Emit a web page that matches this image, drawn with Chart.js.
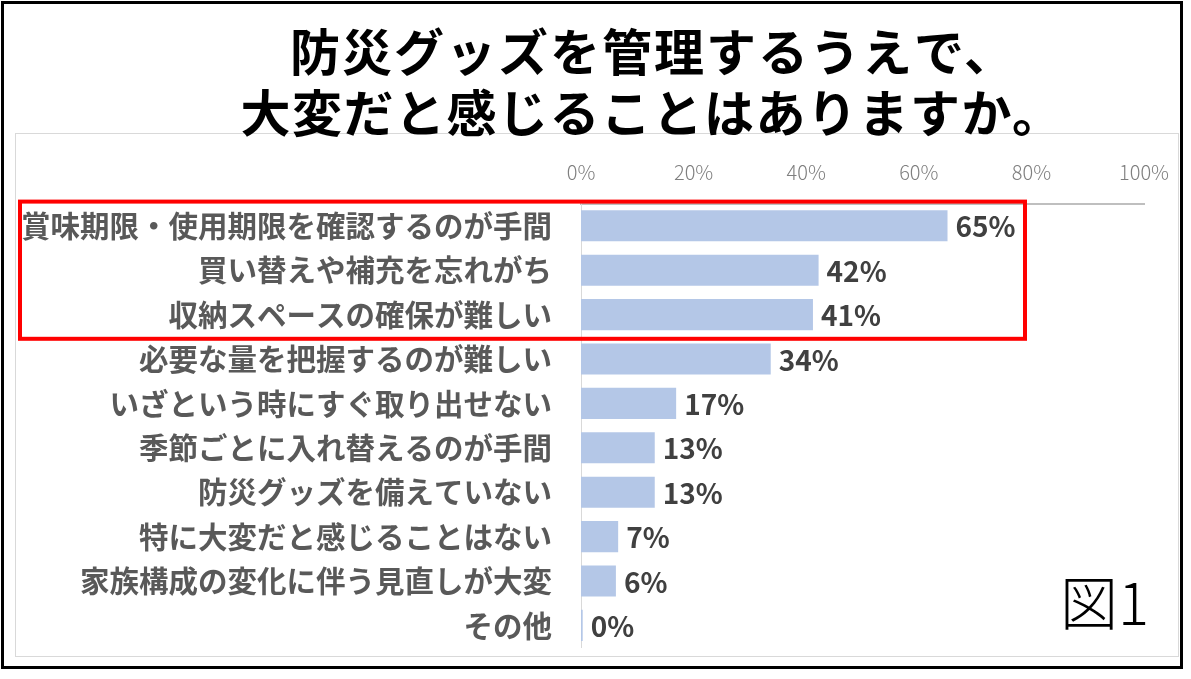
<!DOCTYPE html>
<html lang="ja">
<head>
<meta charset="utf-8">
<title>防災グッズを管理するうえで、大変だと感じることはありますか。</title>
<script src="https://cdn.jsdelivr.net/npm/chart.js@4.4.1/dist/chart.umd.min.js"></script>
<style>
  html, body { margin: 0; padding: 0; background: #fff; }
  #wrap { width: 1191px; height: 679px; position: relative; }
</style>
</head>
<body>
<div id="wrap"><canvas id="chart" width="1191" height="679"></canvas></div>
<script>
// chart data
const titleLines = ['防災グッズを管理するうえで、', '大変だと感じることはありますか。'];
const categories = [
  '賞味期限・使用期限を確認するのが手間',
  '買い替えや補充を忘れがち',
  '収納スペースの確保が難しい',
  '必要な量を把握するのが難しい',
  'いざという時にすぐ取り出せない',
  '季節ごとに入れ替えるのが手間',
  '防災グッズを備えていない',
  '特に大変だと感じることはない',
  '家族構成の変化に伴う見直しが大変',
  'その他'
];
const values = [65.1, 42.2, 41.2, 33.7, 16.9, 13.1, 13.1, 6.6, 6.2, 0.3];
const tickValues = [0, 20, 40, 60, 80, 100];
const highlightRows = 3;   // first three rows boxed in red
const figureLabel = '図1';

const JP = '"Noto Sans CJK JP", "Noto Sans", sans-serif';

// frames, title and figure label
const decorations = {
  id: 'decorations',
  beforeDraw(chart) {
    const ctx = chart.ctx;
    ctx.save();
    ctx.fillStyle = '#fff';
    ctx.fillRect(0, 0, chart.width, chart.height);
    // inner chart box
    ctx.strokeStyle = '#d9d9d9';
    ctx.lineWidth = 1;
    ctx.strokeRect(15.5, 133.5, 1163, 523);
    // title
    ctx.fillStyle = '#000';
    ctx.font = 'bold 50px ' + JP;
    ctx.textAlign = 'center';
    ctx.textBaseline = 'middle';
    ctx.letterSpacing = '2px';
    ctx.fillText(titleLines[0], 653, 52);
    ctx.letterSpacing = '1.5px';
    ctx.fillText(titleLines[1], 652, 113);
    ctx.restore();
  },
  afterDraw(chart) {
    const ctx = chart.ctx;
    const y = chart.scales.y;
    const band = (y.bottom - y.top) / categories.length;
    ctx.save();
    // red highlight box
    const top = y.getPixelForValue(0) - band / 2 - 2;
    const bottom = y.getPixelForValue(highlightRows - 1) + band / 2 + 2;
    ctx.strokeStyle = '#ff0000';
    ctx.lineWidth = 4;
    ctx.strokeRect(20, top, 1005, bottom - top);
    // figure label
    ctx.fillStyle = '#000';
    ctx.font = '300 58px ' + JP;
    ctx.textAlign = 'right';
    ctx.textBaseline = 'alphabetic';
    ctx.fillText(figureLabel, 1149, 625);
    // outer border
    ctx.strokeStyle = '#000';
    ctx.lineWidth = 3;
    ctx.strokeRect(2.5, 2.5, 1179, 665);
    ctx.restore();
  }
};

// value labels at bar ends
const barLabels = {
  id: 'barLabels',
  afterDatasetsDraw(chart) {
    const ctx = chart.ctx;
    const meta = chart.getDatasetMeta(0);
    ctx.save();
    ctx.fillStyle = '#404040';
    ctx.font = 'bold 28px ' + JP;
    ctx.textAlign = 'left';
    ctx.textBaseline = 'middle';
    meta.data.forEach((bar, i) => {
      ctx.fillText(Math.round(values[i]) + '%', bar.x + 8, bar.y + 1);
    });
    ctx.restore();
  }
};

new Chart(document.getElementById('chart'), {
  type: 'bar',
  data: {
    labels: categories,
    datasets: [{
      data: values,
      backgroundColor: '#b4c7e7',
      borderWidth: 0,
      barPercentage: 0.7,
      categoryPercentage: 1
    }]
  },
  options: {
    indexAxis: 'y',
    responsive: false,
    animation: false,
    devicePixelRatio: 1,
    layout: { padding: { top: 140, left: 0, right: 47, bottom: 31.4 } },
    plugins: {
      legend: { display: false },
      tooltip: { enabled: false }
    },
    scales: {
      x: {
        position: 'top',
        min: 0,
        max: 100,
        afterFit(s) { s.height = 63.6; },
        afterBuildTicks(s) { s.ticks = tickValues.map(v => ({ value: v })); },
        ticks: {
          padding: 19,
          color: '#7f7f7f',
          font: { family: JP, size: 20, weight: 300 },
          callback: v => v + '%'
        },
        grid: { display: false, drawTicks: false },
        border: { display: true, color: '#bfbfbf', width: 2 }
      },
      y: {
        afterFit(s) {
          s.width = 581;
          s.paddingTop = 0;
          s.paddingBottom = 0;
        },
        ticks: {
          padding: 29,
          color: '#595959',
          font: { family: JP, size: 29.5, weight: 'bold' }
        },
        grid: { display: false, drawTicks: false },
        border: { display: true, color: '#d9d9d9', width: 1 }
      }
    }
  },
  plugins: [decorations, barLabels]
});
</script>
</body>
</html>
